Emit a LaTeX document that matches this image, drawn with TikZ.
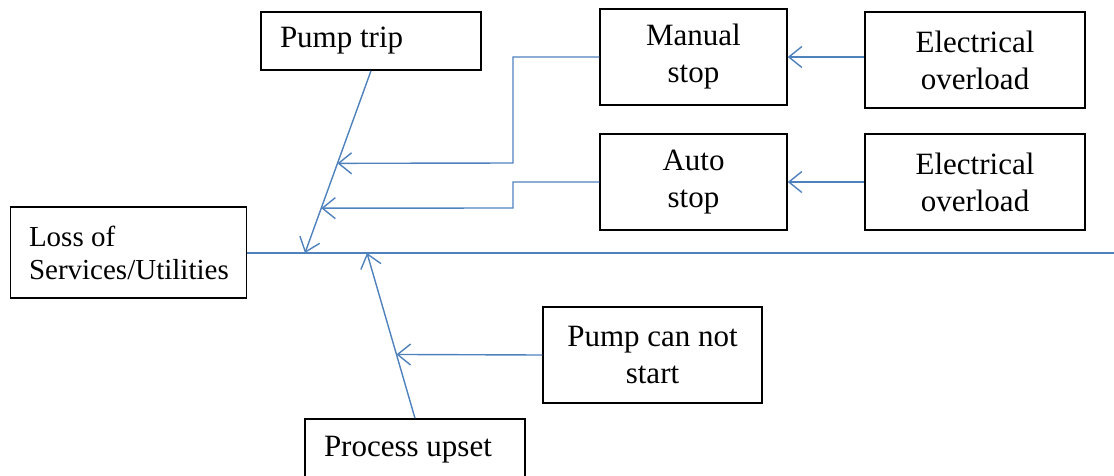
\documentclass[tikz,border=0pt]{standalone}
\usepackage{fontspec}
\setmainfont{Liberation Serif}
\usetikzlibrary{calc,arrows.meta}
\definecolor{linkblue}{HTML}{4F81BD}
\tikzset{
  box/.style={draw=black, line width=1.5pt, fill=white, inner sep=0pt,
    font=\fontsize{31}{37}\selectfont, align=center},
  leftbox/.style={box, align=left, inner xsep=19pt,
    execute at begin node={\spaceskip=0pt\xspaceskip=0pt\relax}},
  link/.style={draw=linkblue, line width=1.4pt},
  arr/.style={link, -{Straight Barb[length=13pt, width=21pt, line width=1.4pt]}},
}
\begin{document}
\begin{tikzpicture}[x=1pt, y=-1pt]
\useasboundingbox (0,0) rectangle (1114,475);
\clip (0,0) rectangle (1114,475);

% boxes
\node[leftbox, text width=182pt, minimum height=58pt] (pt) at (371,41) {Pump trip};
\node[box, minimum width=187pt, minimum height=96pt] (ms) at (693.5,57) {Manual\\stop};
\node[box, minimum width=220pt, minimum height=96pt] (eo1) at (975,60) {Electrical\\overload};
\node[box, minimum width=187pt, minimum height=96pt] (as) at (693.5,182) {Auto\\stop};
\node[box, minimum width=220pt, minimum height=96pt] (eo2) at (975,182) {Electrical\\overload};
\node[leftbox, text width=199pt, inner xsep=18.5pt, minimum height=91pt,
      font=\fontsize{29}{33}\selectfont] (loss) at (128.5,252.5) {Loss of\\Services/Utilities};
\node[box, minimum width=219pt, minimum height=96pt] (pcns) at (652.5,355) {Pump can not\\start};
\node[leftbox, text width=182pt, minimum height=62pt] (pu) at (415,450) {Process upset};

% main line and its junction points
\coordinate (mainend) at (1114,253);
\coordinate (tp) at (305,253);
\coordinate (tq) at (367,253);
\draw[link] (loss.east |- mainend) -- (mainend);

% pump trip branch
\draw[arr] (pt.south) -- (tp);
\coordinate (jm) at ($(pt.south)!0.508!(tp)$);
\coordinate (ja) at ($(pt.south)!0.754!(tp)$);
\draw[arr] (ms.west) -- (513,57) -- (513,163) -- (jm);
\draw[arr] (as.west) -- (513,182) -- (513,208) -- (ja);

% electrical overload causes
\draw[arr] (eo1.west |- ms.west) -- (ms.east);
\draw[arr] (eo2.west) -- (as.east);

% process upset branch
\draw[arr] (pu.north) -- (tq);
\coordinate (jp) at ($(pu.north)!0.386!(tq)$);
\draw[arr] (pcns.west) -- (jp);
\end{tikzpicture}
\end{document}
